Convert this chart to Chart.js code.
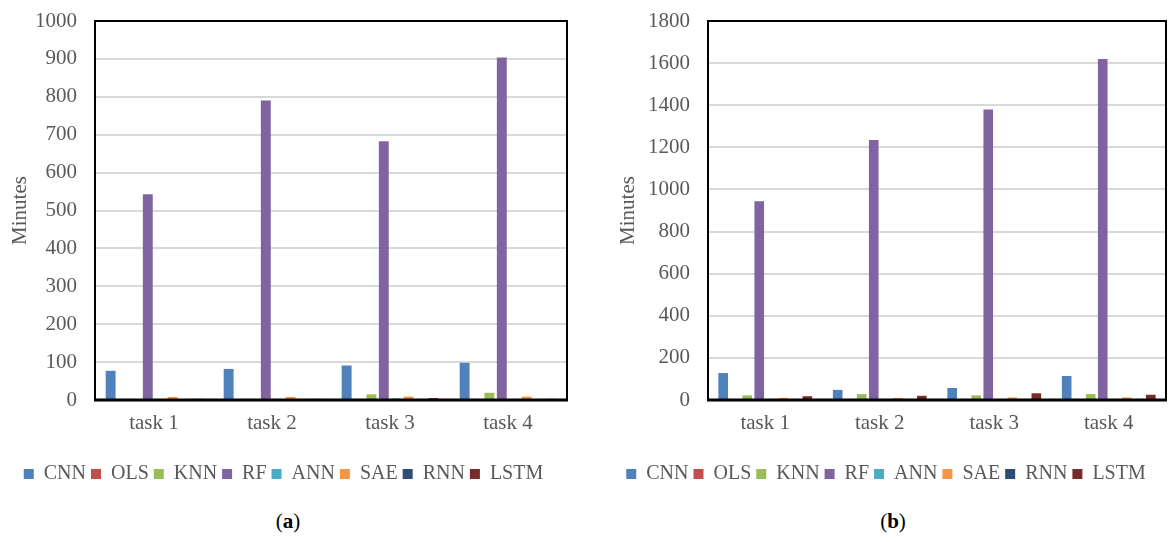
<!DOCTYPE html>
<html>
<head>
<meta charset="utf-8">
<script src="https://cdn.jsdelivr.net/npm/chart.js@4"></script>
<style>
  html, body { margin: 0; padding: 0; background: #fff; }
  body { width: 1172px; height: 542px; position: relative; overflow: hidden; font-family: "Liberation Serif", serif; }
  .wrap { position: absolute; top: 0; }
  .cap { position: absolute; top: 509px; font-size: 21px; color: #000; transform: translateX(-50%); }
</style>
</head>
<body>
<div class="wrap" id="wa" style="left:0px;width:590px;height:500px;"><canvas id="ca"></canvas></div>
<div class="wrap" id="wb" style="left:606px;width:566px;height:500px;"><canvas id="cb"></canvas></div>
<div class="cap" style="left:288px;">(<b>a</b>)</div>
<div class="cap" style="left:893px;">(<b>b</b>)</div>
<script>
const categories = ['task 1', 'task 2', 'task 3', 'task 4'];
const seriesNames = ['CNN', 'OLS', 'KNN', 'RF', 'ANN', 'SAE', 'RNN', 'LSTM'];
const seriesColors = ['#4F81BD', '#C0504D', '#9BBB59', '#8064A2', '#4BACC6', '#F79646', '#2C4D75', '#772C2A'];

// Panel (a)
const a_CNN  = [77, 82, 91, 98];
const a_OLS  = [1, 1, 1, 1];
const a_KNN  = [2, 2, 15, 19];
const a_RF   = [543, 790, 683, 904];
const a_ANN  = [1, 1, 4, 2];
const a_SAE  = [8, 8, 9, 9];
const a_RNN  = [1, 1, 1, 1];
const a_LSTM = [3, 3, 5, 3];
const a_yMax = 1000, a_yStep = 100;

// Panel (b)
const b_CNN  = [128, 48, 57, 114];
const b_OLS  = [2, 2, 2, 2];
const b_KNN  = [22, 28, 22, 28];
const b_RF   = [944, 1235, 1380, 1620];
const b_ANN  = [3, 3, 3, 3];
const b_SAE  = [10, 10, 12, 12];
const b_RNN  = [3, 3, 5, 3];
const b_LSTM = [18, 20, 32, 25];
const b_yMax = 1800, b_yStep = 200;

const yTitle = 'Minutes';
const FONT = '"Liberation Serif", "Times New Roman", serif';
const GRAY = '#595959';

const framePlugin = {
  id: 'frame',
  afterDraw(chart) {
    const {ctx, chartArea: c} = chart;
    ctx.save();
    ctx.strokeStyle = '#000';
    ctx.lineWidth = 2;
    ctx.strokeRect(c.left, c.top, c.right - c.left, c.bottom - c.top);
    ctx.lineWidth = 3;
    ctx.beginPath();
    ctx.moveTo(c.left - 1, c.bottom);
    ctx.lineTo(c.right + 1, c.bottom);
    ctx.stroke();
    ctx.restore();
  }
};

function makeChart(id, seriesData, yMax, yStep, yAxisWidth, padRight, titlePad) {
  const datasets = seriesNames.map((n, i) => ({
    label: n,
    data: seriesData[i],
    backgroundColor: seriesColors[i],
    borderWidth: 0,
    categoryPercentage: 0.84,
    barPercentage: 0.8
  }));
  return new Chart(document.getElementById(id), {
    type: 'bar',
    data: { labels: categories, datasets },
    plugins: [framePlugin],
    options: {
      responsive: true,
      maintainAspectRatio: false,
      animation: false,
      layout: { padding: { top: 21, right: padRight, left: 0, bottom: 6 } },
      plugins: {
        legend: {
          position: 'bottom',
          labels: {
            font: { family: FONT, size: 20 },
            color: GRAY,
            boxWidth: 10,
            boxHeight: 10,
            padding: 5
          }
        },
        tooltip: { enabled: false }
      },
      scales: {
        x: {
          grid: { display: false, drawTicks: false },
          border: { display: false },
          ticks: { font: { family: FONT, size: 21 }, color: GRAY, padding: 11, maxRotation: 0 },
          afterFit(s) { s.height = 59; }
        },
        y: {
          min: 0, max: yMax,
          grid: { color: '#d9d9d9', lineWidth: 2, drawTicks: false },
          border: { display: false },
          ticks: { stepSize: yStep, font: { family: FONT, size: 21 }, color: GRAY, padding: 18,
                   callback: (v) => String(v) },
          title: { display: true, text: yTitle, font: { family: FONT, size: 21 }, color: GRAY, padding: { top: titlePad, bottom: 0 } },
          afterFit(s) { s.width = yAxisWidth; s.paddingTop = 0; s.paddingBottom = 0; }
        }
      }
    }
  });
}

makeChart('ca', [a_CNN, a_OLS, a_KNN, a_RF, a_ANN, a_SAE, a_RNN, a_LSTM], a_yMax, a_yStep, 95, 23, 8);
makeChart('cb', [b_CNN, b_OLS, b_KNN, b_RF, b_ANN, b_SAE, b_RNN, b_LSTM], b_yMax, b_yStep, 102, 6, 10);
</script>
</body>
</html>
